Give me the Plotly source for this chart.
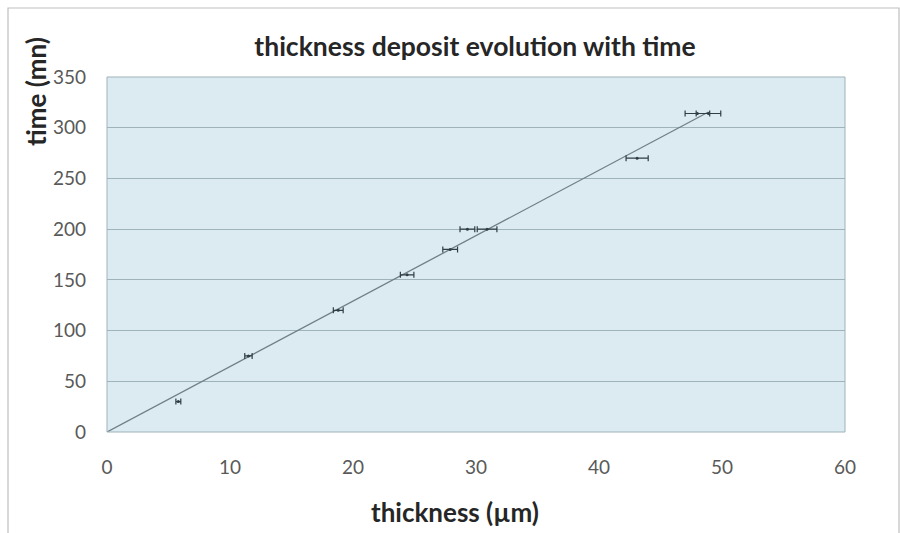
import plotly.graph_objects as go

# measured deposit thickness (µm) versus deposition time (mn)
thickness = [5.8, 11.5, 18.8, 24.4, 27.9, 29.3, 30.9, 43.1, 48.0, 48.9]
time_mn = [30, 75, 120, 155, 180, 200, 200, 270, 314, 314]
thickness_err = [0.2, 0.3, 0.4, 0.55, 0.6, 0.6, 0.8, 0.9, 1.0, 1.0]

x_ticks = [0, 10, 20, 30, 40, 50, 60]
y_ticks = [0, 50, 100, 150, 200, 250, 300, 350]

# linear trend through the origin (least squares)
slope = sum(x * y for x, y in zip(thickness, time_mn)) / sum(x * x for x in thickness)
trend_x = [0, max(thickness)]
trend_y = [slope * v for v in trend_x]

W, H = 900, 533
L, R, T, B = 107, 55, 77, 101
pw, ph = W - L - R, H - T - B

FONT = "Lato, 'Open Sans', sans-serif"

fig = go.Figure()

fig.add_trace(go.Scatter(
    x=trend_x, y=trend_y, mode="lines",
    line=dict(color="#6f7f86", width=1.3),
    hoverinfo="skip", showlegend=False,
))

fig.add_trace(go.Scatter(
    x=thickness, y=time_mn, mode="markers",
    marker=dict(size=3, color="#2f3d44"),
    error_x=dict(type="data", array=thickness_err, visible=True,
                 color="#2f3d44", thickness=1.2, width=3),
    showlegend=False,
))

axis_font = dict(family=FONT, size=19, color="#595959")
title_font = dict(family=FONT, size=26.5, color="#262626")
axis_title_font = dict(family=FONT, size=26, color="#262626")

fig.update_layout(
    width=W, height=H,
    margin=dict(l=L, r=R, t=T, b=B),
    paper_bgcolor="white",
    plot_bgcolor="#dcebf1",
    title=dict(
        text="<b>thickness deposit evolution with time</b>",
        x=(475 - L) / pw, xref="paper", xanchor="center",
        y=1 - 47 / H, yref="container", yanchor="middle",
        font=title_font,
    ),
    xaxis=dict(
        range=[0, 60], tickvals=x_ticks, tickfont=axis_font,
        showgrid=False, zeroline=False, showline=False, ticks="",
        ticklabelstandoff=22,
    ),
    yaxis=dict(
        range=[0, 350], tickvals=y_ticks, tickfont=axis_font,
        showgrid=True, gridcolor="#9fb3ba", gridwidth=1.3,
        zeroline=False, showline=False, ticks="",
        ticklabelstandoff=20,
    ),
    shapes=[
        # outer chart frame
        dict(type="rect", xref="paper", yref="paper",
             x0=(8 - L) / pw, x1=(899 - L) / pw,
             y0=-0.6, y1=1 + (T - 8) / ph,
             line=dict(color="#bfbfbf", width=1.2), fillcolor="rgba(0,0,0,0)",
             layer="below"),
        # plot-area border
        dict(type="rect", xref="paper", yref="paper", x0=0, x1=1, y0=0, y1=1,
             line=dict(color="#9fb3ba", width=1), fillcolor="rgba(0,0,0,0)"),
    ],
    annotations=[
        dict(text="<b>time (mn)</b>", textangle=-90, showarrow=False,
             xref="paper", yref="paper",
             x=(36 - L) / pw, y=1 - (92 - T) / ph,
             xanchor="center", yanchor="middle",
             font=axis_title_font),
        dict(text="<b>thickness (µm)</b>", showarrow=False,
             xref="paper", yref="paper",
             x=(455 - L) / pw, y=-(512 - (H - B)) / ph,
             xanchor="center", yanchor="middle",
             font=axis_title_font),
    ],
)

fig.write_html("out.html")
